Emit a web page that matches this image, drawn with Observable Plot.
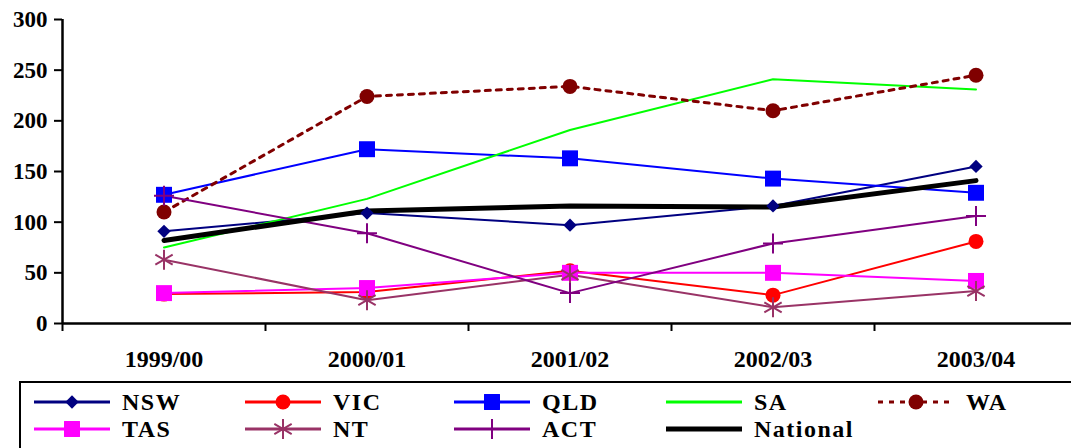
<!DOCTYPE html>
<html><head><meta charset="utf-8">
<script src="https://cdn.jsdelivr.net/npm/d3@7"></script>
<script src="https://cdn.jsdelivr.net/npm/@observablehq/plot@0.6"></script>
<style>
body{margin:0;background:#fff;overflow:hidden;font-family:"Liberation Serif","Times New Roman",serif;}
#chart svg{display:block}
#chart svg text{font-family:"Liberation Serif","Times New Roman",serif;}
#legend{position:absolute;left:19px;top:381px;width:1100px;height:120px;border:2px solid #000;box-sizing:border-box;}
.item{position:absolute;display:flex;align-items:center;font-weight:bold;font-size:24px;letter-spacing:1.5px;color:#000;height:26px;white-space:nowrap;}
.item span{display:inline-block;line-height:24px;}
.item svg{display:block;margin-right:12px}
</style></head><body>
<div id="chart"></div><div id="legend"></div>
<script>
const years = ["1999/00", "2000/01", "2001/02", "2002/03", "2003/04"];
const yTicks = [0, 50, 100, 150, 200, 250, 300];
const NSW = [91, 109, 97, 116, 155];
const VIC = [29, 31, 52, 28, 81];
const QLD = [127, 172, 163, 143, 129];
const SA = [75, 123, 191, 241, 231];
const WA = [110, 224, 234, 210, 245];
const TAS = [30, 35, 50, 50, 42];
const NT = [63, 23, 48, 16, 32];
const ACT = [126, 89, 30, 79, 106];
const National = [82, 111, 116, 115, 141];

const series = [
  {name: "NSW", values: NSW, color: "#000080", symbol: "diamond2", r: 6, filled: true, width: 2},
  {name: "VIC", values: VIC, color: "#ff0000", symbol: "circle", r: 7.5, filled: true, width: 2},
  {name: "QLD", values: QLD, color: "#0000ff", symbol: "square", r: 9, filled: true, width: 2},
  {name: "SA", values: SA, color: "#00ff00", symbol: null, width: 2},
  {name: "WA", values: WA, color: "#800000", symbol: "circle", r: 7.5, filled: true, width: 3, dash: "5,6"},
  {name: "TAS", values: TAS, color: "#ff00ff", symbol: "square", r: 9, filled: true, width: 2},
  {name: "NT", values: NT, color: "#993366", symbol: "asterisk", r: 9.5, filled: false, width: 2},
  {name: "ACT", values: ACT, color: "#800080", symbol: "plus", r: 6.5, filled: false, width: 2},
  {name: "National", values: National, color: "#000000", symbol: null, width: 5}
];

const FONT = "'Liberation Serif', 'Times New Roman', serif";
const X = (d, i) => i;
const Y = d => d;
const marks = [];
for (const s of series) {
  marks.push(Plot.line(s.values, {x: X, y: Y, stroke: s.color, strokeWidth: s.width, strokeDasharray: s.dash}));
}
for (const s of series) {
  if (!s.symbol) continue;
  marks.push(Plot.dot(s.values, s.filled
    ? {x: X, y: Y, symbol: s.symbol, r: s.r, fill: s.color, stroke: "none"}
    : {x: X, y: Y, symbol: s.symbol, r: s.r, fill: "none", stroke: s.color, strokeWidth: 2}));
}

const chart = Plot.plot({
  width: 1071,
  height: 378,
  marginLeft: 62,
  marginRight: 0,
  marginTop: 19,
  marginBottom: 55,
  style: {fontFamily: FONT, fontWeight: "bold", fontSize: "23px", color: "#000", background: "#fff"},
  x: {domain: [-0.5, 4.5], range: [62, 1077]},
  y: {domain: [0, 300]},
  marks: [
    Plot.axisY(yTicks, {tickSize: 8, tickPadding: 7, strokeWidth: 2, fontSize: 23, fontFamily: FONT}),
    Plot.axisX(d3.range(-0.5, 5, 1), {tickSize: 8, tickFormat: () => "", strokeWidth: 2}),
    Plot.axisX(d3.range(years.length), {tickSize: 0, tickPadding: 26, tickFormat: i => years[i], fontSize: 24, fontFamily: FONT}),
    ...marks,
    Plot.ruleY([0], {strokeWidth: 2.5}),
    Plot.ruleX([-0.5], {strokeWidth: 2.5})
  ]
});
document.getElementById("chart").append(chart);

// legend
const legend = document.getElementById("legend");
const colX = [13, 224, 433, 645, 857];
const rowY = [6, 33];
series.forEach((s, k) => {
  const col = k % 5, row = Math.floor(k / 5);
  const div = document.createElement("div");
  div.className = "item";
  div.style.left = colX[col] + "px";
  div.style.top = rowY[row] + "px";
  const svg = d3.create("svg").attr("width", 76).attr("height", 26);
  svg.append("line").attr("x1", 0).attr("x2", 76).attr("y1", 13).attr("y2", 13)
    .attr("stroke", s.color).attr("stroke-width", s.name === "National" ? 5 : 3)
    .attr("stroke-dasharray", s.dash || null);
  if (s.symbol) {
    const symMap = {diamond2: d3.symbolDiamond2, circle: d3.symbolCircle, square: d3.symbolSquare, asterisk: d3.symbolAsterisk, plus: d3.symbolPlus};
    const path = d3.symbol(symMap[s.symbol], Math.PI * s.r * s.r)();
    const p = svg.append("path").attr("d", path).attr("transform", "translate(38,13)");
    if (s.filled) p.attr("fill", s.color); else p.attr("fill", "none").attr("stroke", s.color).attr("stroke-width", 2);
  }
  div.append(svg.node());
  const t = document.createElement("span");
  t.textContent = s.name;
  div.append(t);
  legend.append(div);
});
</script>
</body></html>
